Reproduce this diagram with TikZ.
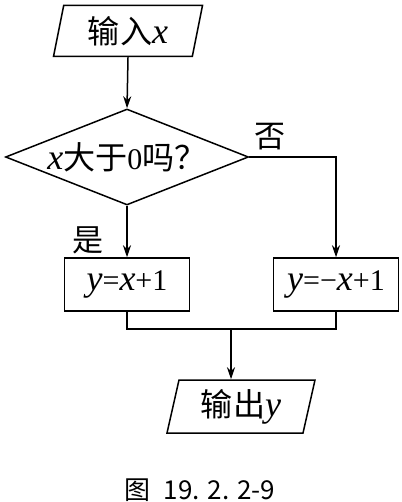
\documentclass[tikz,border=0pt]{standalone}
\usepackage{fontspec}
\setmainfont{Liberation Serif}
\newfontfamily\cjk[Scale=1.07]{Noto Sans CJK SC}
\newfontfamily\capfont{Noto Sans CJK SC}
\newcommand{\vx}{{\fontsize{36}{36}\selectfont\itshape x}}
\newcommand{\vy}{{\fontsize{36}{36}\selectfont\itshape y}}
\usetikzlibrary{shapes.geometric,arrows.meta,calc}
\begin{document}
\begin{tikzpicture}[x=1pt,y=-1pt,
  every node/.style={font=\fontsize{30}{34}\selectfont},
  para/.style={draw,trapezium,trapezium left angle=71,trapezium right angle=109,
    trapezium stretches body=true,minimum width=149pt,minimum height=51pt,inner sep=0pt},
  dec/.style={draw,diamond,shape aspect=2.53,minimum width=243pt,minimum height=96pt,inner sep=0pt},
  proc/.style={draw,rectangle,minimum width=125pt,minimum height=53pt,inner sep=0pt},
  lbl/.style={font=\fontsize{29}{32}\selectfont\cjk},
  line/.style={line width=1.5pt},
  arr/.style={line,-{Stealth[length=12pt,width=8pt]}}]
\useasboundingbox (0,0) rectangle (401,502);
\node[para,line] (in) at (128,31) {{\cjk 输入}\vx};
\node[dec,line] (d) at (127,157) {\vx{\cjk 大于}0{\cjk 吗？}};
\node[proc,line] (p1) at (127,284.5) {\vy=\vx+1};
\node[proc,line] (p2) at (336,284.5) {\vy=−\vx+1};
\node[para,line,minimum width=148pt,minimum height=53pt] (out) at (241,406.5) {{\cjk 输出}\vy};
\coordinate (m) at (231,329);
\draw[arr] (in.south) -- (d.north);
\draw[arr] (d.south) -- (p1.north);
\draw[arr] (d.east) -| (p2.north);
\draw[line] (p1.south) |- (m);
\draw[line] (p2.south) |- (m);
\draw[arr] (m) -- (m |- out.north);
\node[lbl] (no) at (270,137) {否};
\node[lbl] (yes) at (88,240) {是};
\node[font=\fontsize{26}{30}\selectfont\capfont] (cap) at (200,490) {图\hspace{0.5em}19.\hspace{0.3em}2.\hspace{0.3em}2-9};
\end{tikzpicture}
\end{document}
